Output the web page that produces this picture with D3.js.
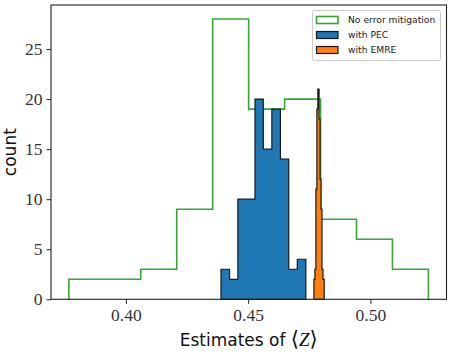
<!DOCTYPE html>
<html>
<head>
<meta charset="utf-8">
<script src="https://cdn.jsdelivr.net/npm/d3@7"></script>
<style>
  body { margin: 0; background: #fff; }
  svg { display: block; }
  .tick text { font-family: "Liberation Serif", "DejaVu Serif", serif; }
</style>
</head>
<body>
<svg id="chart" width="457" height="356"></svg>
<script>
// histogram bin edges + counts
const noMitEdges = [0.3767, 0.3914, 0.4061, 0.4208, 0.4355, 0.4502, 0.4649, 0.4796, 0.4943, 0.5090, 0.5237]
const noMitCounts = [2, 2, 3, 9, 28, 19, 20, 8, 6, 3]

const pecEdges = [0.4389, 0.4424, 0.4458, 0.4493, 0.4528, 0.4562, 0.4597, 0.4632, 0.4666, 0.4701, 0.4736]
const pecCounts = [3, 2, 10, 10, 20, 15, 19, 14, 3, 4]

const emreEdges = [0.4769, 0.4773, 0.4777, 0.4781, 0.4785, 0.4790, 0.4794, 0.4798, 0.4802, 0.4806, 0.4811]
const emreCounts = [2, 3, 11, 19, 21, 18, 12, 9, 3, 2]

const xTicks = [0.40, 0.45, 0.50]
const yTicks = [0, 5, 10, 15, 20, 25]
const legendLabels = ["No error mitigation", "with PEC", "with EMRE"]

const mLeft = 51, mRight = 446.5, mTop = 5, mBottom = 299.3

const x = d3.scaleLinear().domain([0.3694, 0.5311]).range([mLeft, mRight])
const y = d3.scaleLinear().domain([0, 29.4]).range([mBottom, mTop])

const svg = d3.select("#chart")

// step outline of a histogram
const outline = (edges, counts) => {
  const pts = [[edges[0], 0]]
  counts.forEach((c, i) => {
    pts.push([edges[i], c])
    pts.push([edges[i + 1], c])
  })
  pts.push([edges[edges.length - 1], 0])
  return pts
}
const line = d3.line().x(d => x(d[0])).y(d => y(d[1]))

const series = [
  { edges: noMitEdges, counts: noMitCounts, fill: "none", stroke: "#35a835", sw: 1.6, closed: false },
  { edges: pecEdges, counts: pecCounts, fill: "#1f77b4", stroke: "#1a1a1a", sw: 1.2, closed: true },
  { edges: emreEdges, counts: emreCounts, fill: "#ff7f0e", stroke: "#1a1a1a", sw: 1.2, closed: true }
]

series.forEach(s => {
  svg.append("path")
    .attr("d", line(outline(s.edges, s.counts)) + (s.closed ? "Z" : ""))
    .attr("fill", s.fill)
    .attr("stroke", s.stroke)
    .attr("stroke-width", s.sw)
    .attr("stroke-linejoin", "miter")
})

// axes
const xAxis = svg.append("g")
  .attr("transform", `translate(0,${mBottom})`)
  .call(d3.axisBottom(x).tickValues(xTicks).tickFormat(d3.format(".2f")).tickSize(4.5).tickPadding(5))
const yAxis = svg.append("g")
  .attr("transform", `translate(${mLeft},0)`)
  .call(d3.axisLeft(y).tickValues(yTicks).tickSize(4.5).tickPadding(4))

;[xAxis, yAxis].forEach(g => {
  g.select(".domain").remove()
  g.selectAll(".tick line").attr("stroke", "#222").attr("stroke-width", 1)
  g.selectAll(".tick text").attr("font-size", 17.5).attr("fill", "#333")
})

// frame
svg.append("rect")
  .attr("x", mLeft).attr("y", mTop)
  .attr("width", mRight - mLeft).attr("height", mBottom - mTop)
  .attr("fill", "none").attr("stroke", "#222").attr("stroke-width", 1.1)

// labels
const xl = svg.append("text")
  .attr("x", (mLeft + mRight) / 2).attr("y", 346)
  .attr("text-anchor", "middle")
  .attr("font-family", "DejaVu Sans, sans-serif").attr("font-size", 17)
  .attr("fill", "#111")
xl.append("tspan").text("Estimates of ")
xl.append("tspan").attr("font-family", "DejaVu Serif, serif").attr("font-size", 21).text("\u27E8")
xl.append("tspan").attr("font-family", "Liberation Serif, serif").attr("font-style", "italic").attr("font-size", 19).text("Z")
xl.append("tspan").attr("font-family", "DejaVu Serif, serif").attr("font-size", 21).text("\u27E9")

svg.append("text")
  .attr("transform", `translate(16,${(mTop + mBottom) / 2}) rotate(-90)`)
  .attr("text-anchor", "middle")
  .attr("font-family", "DejaVu Sans, sans-serif").attr("font-size", 17)
  .attr("fill", "#111")
  .text("count")

// legend
const lg = svg.append("g")
lg.append("rect")
  .attr("x", 312.5).attr("y", 10.5).attr("width", 128).attr("height", 50)
  .attr("rx", 2).attr("fill", "#fff").attr("fill-opacity", 0.85)
  .attr("stroke", "#ccc").attr("stroke-width", 1)

legendLabels.forEach((label, i) => {
  const cy = 20 + i * 15
  const s = series[i]
  lg.append("rect")
    .attr("x", 316.5).attr("y", cy - 3.5).attr("width", 21.5).attr("height", 7)
    .attr("fill", s.fill === "none" ? "#fff" : s.fill)
    .attr("stroke", s.fill === "none" ? s.stroke : "#1a1a1a")
    .attr("stroke-width", s.fill === "none" ? 1.6 : 1.2)
  lg.append("text")
    .attr("x", 348).attr("y", cy + 3.3)
    .attr("font-family", "DejaVu Sans, sans-serif").attr("font-size", 9.2)
    .attr("fill", "#222")
    .text(label)
})
</script>
</body>
</html>
